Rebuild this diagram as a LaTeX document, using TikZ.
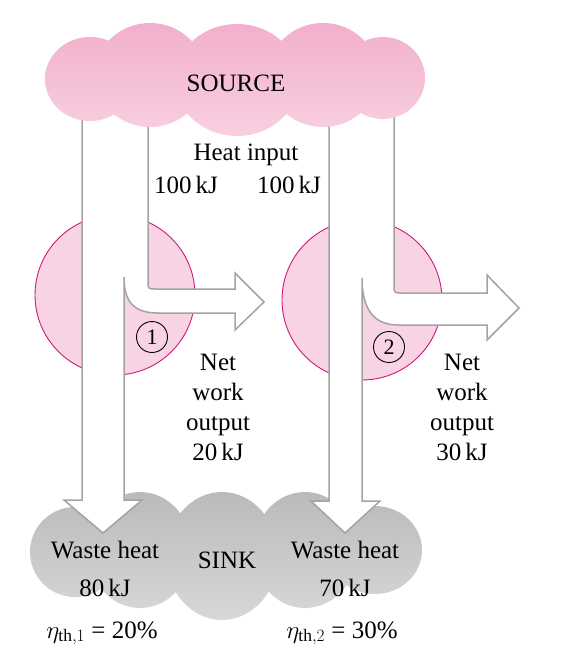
\documentclass[tikz,border=0pt]{standalone}
\usepackage{amsmath}
\usepackage{fontspec}
\setmainfont{Liberation Serif}
\usetikzlibrary{positioning}
\definecolor{srcpinktop}{HTML}{F2AFCB}
\definecolor{srcpinkbot}{HTML}{F8D0E0}
\definecolor{enginepink}{HTML}{F8D3E3}
\definecolor{enginerim}{HTML}{D0187C}
\definecolor{sinkgraytop}{HTML}{B8BABC}
\definecolor{sinkgraybot}{HTML}{D6D8DA}
\definecolor{flowgray}{HTML}{A3A3A3}
\tikzset{
  flow/.style={draw=flowgray, line width=1.5pt, fill=white, line join=miter},
  engine/.style={draw=enginerim, line width=0.9pt, fill=enginepink},
  label/.style={font=\fontsize{25}{30}\selectfont, align=center, inner sep=0pt},
  engnum/.style={draw, circle, minimum size=31pt, inner sep=0pt, line width=0.9pt,
    font=\fontsize{22}{22}\selectfont},
}
\begin{document}
\begin{tikzpicture}[x=1pt,y=-1pt]
  \useasboundingbox (0,0) rectangle (570,654);
  % Vertices
  \coordinate (e1) at (115,295);
  \coordinate (e2) at (362,300);

  % Engines
  \draw[engine] (e1) circle[radius=80];
  \draw[engine] (e2) circle[radius=80];

  % Sink
  \shade[top color=sinkgraytop, bottom color=sinkgraybot]
    (75,552) ellipse[x radius=45, y radius=45]
    (140,550) ellipse[x radius=52, y radius=58]
    (222,556) ellipse[x radius=56, y radius=64]
    (305,550) ellipse[x radius=52, y radius=58]
    (375,550) ellipse[x radius=47, y radius=44];

  % Flows
  \draw[flow] (82,90) -- (82,500) -- (64,500) -- (103,533) -- (142,500) -- (124,500) -- (124,277)
    .. controls (124,302) and (134,313) .. (158,313) -- (235,313) -- (235,330) -- (264,302)
    -- (235,273) -- (235,289) -- (156,289) .. controls (148,289) .. (148,281) -- (148,90) -- cycle;
  \draw[flow] (329,90) -- (329,501) -- (311,501) -- (345,533) -- (380,501) -- (362,501) -- (362,278)
    .. controls (362,308) and (373,325) .. (398,325) -- (487,325) -- (487,340) -- (519,308)
    -- (487,275) -- (487,293) -- (402,293) .. controls (394,293) .. (394,285) -- (394,90) -- cycle;

  % Source
  \shade[top color=srcpinktop, bottom color=srcpinkbot]
    (90,79) ellipse[x radius=45, y radius=42]
    (150,75) ellipse[x radius=55, y radius=52]
    (237,80) ellipse[x radius=62, y radius=56]
    (323,75) ellipse[x radius=55, y radius=52]
    (383,78) ellipse[x radius=42, y radius=41];

  % Labels
  \node[label, anchor=base] (src) at (236,91) {SOURCE};
  \node[label, anchor=base] (heatin) at (246,160) {Heat input};
  \node[label, anchor=base] (qin1) at (186,193) {100\,kJ};
  \node[label, anchor=base] (qin2) at (289,193) {100\,kJ};
  \node[engnum] (num1) at (152,337) {1};
  \node[engnum] (num2) at (389,347) {2};
  \node[label] (wnet1) at (218,407) {Net\\work\\output\\20\,kJ};
  \node[label] (wnet2) at (462,407) {Net\\work\\output\\30\,kJ};
  \node[label, anchor=base] (sink) at (227,568) {SINK};
  \node[label, anchor=base] (waste1) at (105,558) {Waste heat};
  \node[label, anchor=base] (qout1) at (105,596) {80\,kJ};
  \node[label, anchor=base] (eff1) at (102,638) {$\eta_{\text{th},1}$ = 20\%};
  \node[label, anchor=base] (waste2) at (345,558) {Waste heat};
  \node[label, anchor=base] (qout2) at (345,596) {70\,kJ};
  \node[label, anchor=base] (eff2) at (342,638) {$\eta_{\text{th},2}$ = 30\%};
\end{tikzpicture}
\end{document}
